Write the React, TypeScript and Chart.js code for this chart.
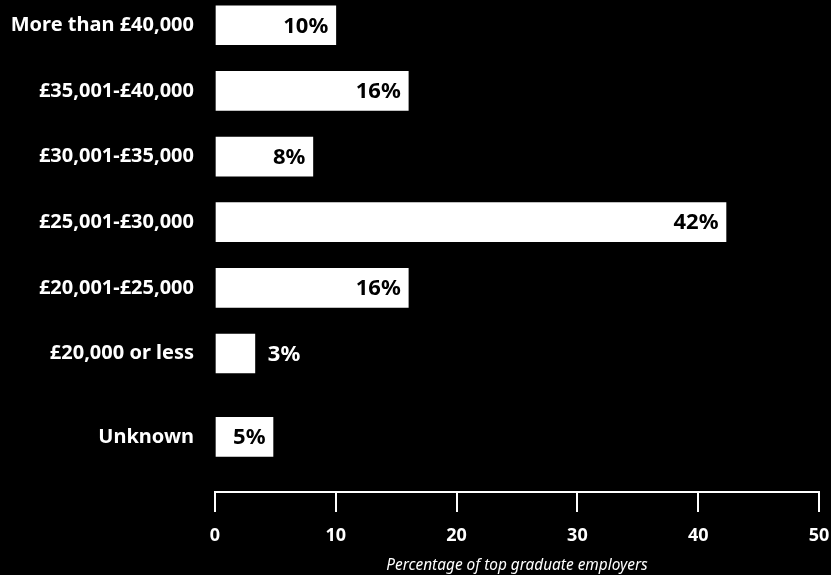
import React, { useEffect, useRef } from "react";
import { Chart, registerables } from "chart.js";

Chart.register(...registerables);

const categories = [
  "More than £40,000",
  "£35,001-£40,000",
  "£30,001-£35,000",
  "£25,001-£30,000",
  "£20,001-£25,000",
  "£20,000 or less",
  "Unknown",
];
const values = [10, 16, 8.1, 42.3, 16, 3.3, 4.8];
const xTickValues = [0, 10, 20, 30, 40, 50];
const axisTitle = "Percentage of top graduate employers";

const FONT = '"Noto Sans", sans-serif';
const SEPARATED_GAP = 0.27; // extra space before the last ("Unknown") row

export default function App() {
  const ref = useRef<HTMLCanvasElement | null>(null);

  useEffect(() => {
    document.body.style.margin = "0";
    document.body.style.background = "#000";
    const rowPos = categories.map((_, i) => i + (i === categories.length - 1 ? SEPARATED_GAP : 0));

    const valueLabelPlugin = {
      id: "valueLabels",
      afterDatasetsDraw(chart: any) {
        const ctx = chart.ctx;
        const meta = chart.getDatasetMeta(0);
        ctx.save();
        ctx.font = `bold 22px ${FONT}`;
        ctx.textBaseline = "middle";
        meta.data.forEach((bar: any, i: number) => {
          const v = values[i];
          const label = `${Math.round(v)}%`;
          if (v >= 4) {
            ctx.fillStyle = "#000";
            ctx.textAlign = "right";
            ctx.fillText(label, bar.x - 7.5, bar.y + 1);
          } else {
            ctx.fillStyle = "#fff";
            ctx.textAlign = "left";
            ctx.fillText(label, bar.x + 13, bar.y + 1);
          }
        });
        ctx.restore();
      },
    };

    const bgPlugin = {
      id: "bg",
      beforeDraw(chart: any) {
        const ctx = chart.ctx;
        ctx.save();
        ctx.fillStyle = "#000";
        ctx.fillRect(0, 0, chart.width, chart.height);
        ctx.restore();
      },
    };

    const chart = new Chart(ref.current as HTMLCanvasElement, {
      type: "bar",
      data: {
        datasets: [
          {
            data: values.map((v, i) => ({ x: v, y: rowPos[i] })),
            backgroundColor: "#fff",
            borderWidth: 0,
            barThickness: 39,
          },
        ],
      },
      options: {
        indexAxis: "y",
        responsive: false,
        animation: false,
        layout: { padding: { top: 0, right: 12, bottom: 0, left: 0 } },
        plugins: { legend: { display: false }, tooltip: { enabled: false } },
        scales: {
          x: {
            type: "linear",
            min: 0,
            max: 50,
            offset: false,
            afterBuildTicks(scale: any) {
              scale.ticks = xTickValues.map((v) => ({ value: v }));
            },
            afterFit(scale: any) {
              scale.height = 83;
              scale.paddingLeft = 0;
              scale.paddingRight = 0;
            },
            grid: {
              drawOnChartArea: false,
              drawTicks: true,
              tickLength: 20,
              color: "#fff",
              lineWidth: 2,
              offset: false,
            },
            border: { display: true, color: "#fff", width: 2 },
            ticks: {
              color: "#fff",
              font: { family: FONT, size: 18, weight: "bold" },
              padding: 13,
              maxRotation: 0,
            },
            title: {
              display: true,
              text: axisTitle,
              color: "#fff",
              font: { family: FONT, size: 15.4, style: "italic" },
              padding: { top: 0, bottom: 0 },
            },
          },
          y: {
            type: "linear",
            reverse: true,
            offset: false,
            min: -0.385,
            max: 7.11,
            afterBuildTicks(scale: any) {
              scale.ticks = rowPos.map((v) => ({ value: v }));
            },
            afterFit(scale: any) {
              scale.width = 215;
              scale.paddingTop = 0;
              scale.paddingBottom = 0;
            },
            grid: { display: false, drawTicks: false, offset: false },
            border: { display: false },
            ticks: {
              autoSkip: false,
              color: "#fff",
              font: { family: FONT, size: 20, weight: "bold" },
              padding: 21,
              callback: (_v: any, idx: number) => categories[idx],
            },
          },
        },
      } as any,
      plugins: [bgPlugin, valueLabelPlugin],
    });
    return () => chart.destroy();
  }, []);

  return <canvas ref={ref} width={831} height={575} style={{ display: "block" }} />;
}
